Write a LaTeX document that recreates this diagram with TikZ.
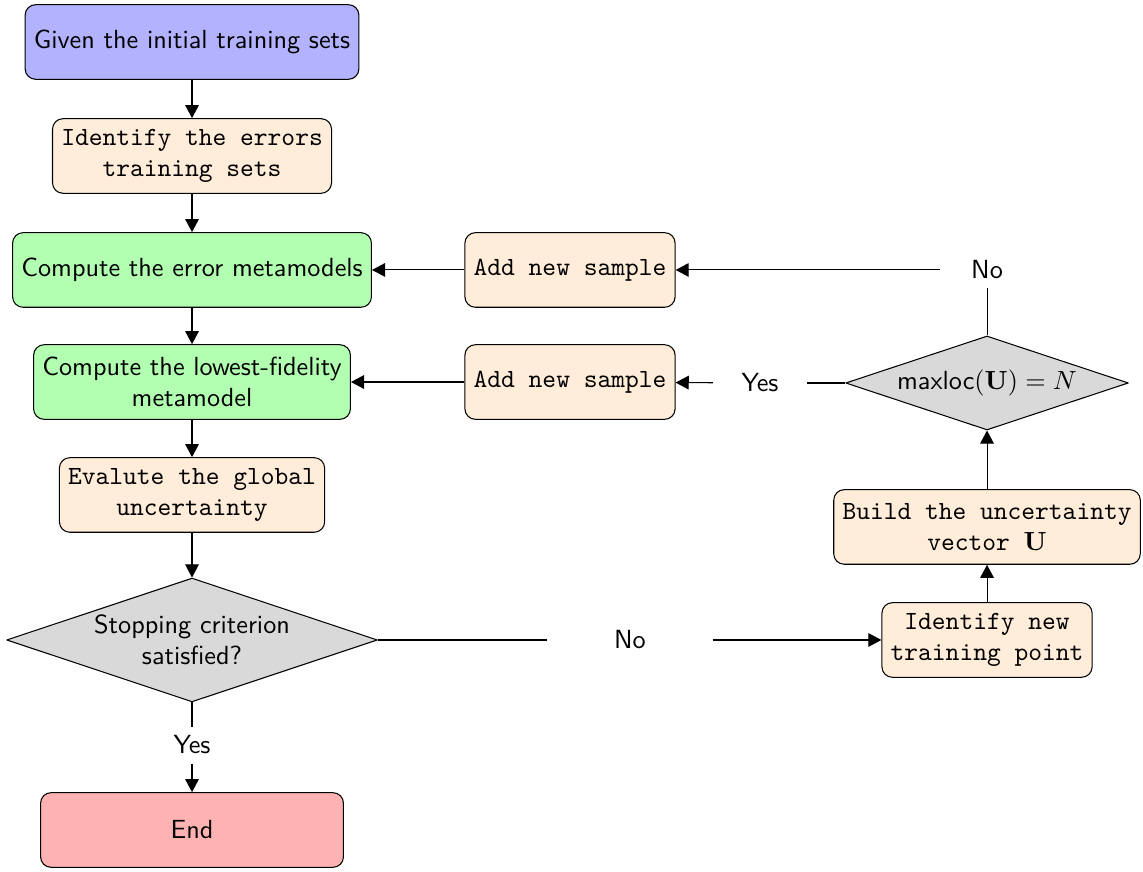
\documentclass[tikz,border=0pt]{standalone}
\usetikzlibrary{shapes.geometric,arrows.meta}
\begin{document}
\begin{tikzpicture}[font=\sffamily, line join=round, >={Triangle[length=5pt,width=5.2pt]},
  startbox/.style={rectangle, rounded corners, draw, align=center, minimum width=4.06cm, minimum height=1cm},
  ttbox/.style={rectangle, rounded corners, draw, align=center, minimum height=1cm, fill=orange!15, font=\ttfamily},
  decision/.style={diamond, draw, fill=gray!30, aspect=3, inner sep=0pt, align=center},
  label/.style={minimum width=1.25cm}]
\def\xa{2.574} \def\xb{7.641} \def\xc{13.231}
\useasboundingbox (0,0) rectangle (15.322,-11.676);
% left column
\node[startbox, fill=blue!30] (given) at (\xa,-0.563) {Given the initial training sets};
\node[ttbox] (errsets) at (\xa,-2.091) {Identify the errors\\training sets};
\node[startbox, fill=green!30] (errmeta) at (\xa,-3.619) {Compute the error metamodels};
\node[startbox, fill=green!30] (lowmeta) at (\xa,-5.121) {Compute the lowest-fidelity\\metamodel};
\node[ttbox] (evalu) at (\xa,-6.635) {Evalute the global\\uncertainty};
\node[decision, minimum width=4.97cm, minimum height=1.66cm] (stop) at (\xa,-8.579) {Stopping criterion\\satisfied?};
\node[startbox, fill=red!30] (finish) at (\xa,-11.126) {End};
% middle and right
\node[ttbox] (addone) at (\xb,-3.619) {Add new sample};
\node[ttbox] (addtwo) at (\xb,-5.121) {Add new sample};
\node[decision, minimum width=3.79cm, minimum height=1.26cm] (maxloc) at (\xc,-5.134) {maxloc$(\mathbf{U})=N$};
\node[ttbox] (build) at (\xc,-7.064) {Build the uncertainty\\vector $\mathbf{U}$};
\node[ttbox] (newpt) at (\xc,-8.579) {Identify new\\training point};
% labels
\node[label] (noup) at (\xc,-3.619) {No};
\node[label] (yesup) at (10.188,-5.134) {Yes};
\node[label, minimum width=2.2cm] (nomid) at (8.445,-8.579) {No};
\node[label] (yesdown) at (\xa,-9.987) {Yes};
% connectors
\draw[->] (given)--(errsets);
\draw[->] (errsets)--(errmeta);
\draw[->] (errmeta)--(lowmeta);
\draw[->] (lowmeta)--(evalu);
\draw[->] (evalu)--(stop);
\draw (stop)--(yesdown);
\draw[->] (yesdown)--(finish);
\draw (stop)--(nomid);
\draw[->] (nomid)--(newpt);
\draw[->] (newpt)--(build);
\draw[->] (build)--(maxloc);
\draw (maxloc)--(yesup);
\draw[->] (yesup)--(addtwo);
\draw[->] (addtwo)--(lowmeta);
\draw (maxloc)--(noup);
\draw[->] (noup)--(addone);
\draw[->] (addone)--(errmeta);
\end{tikzpicture}
\end{document}
